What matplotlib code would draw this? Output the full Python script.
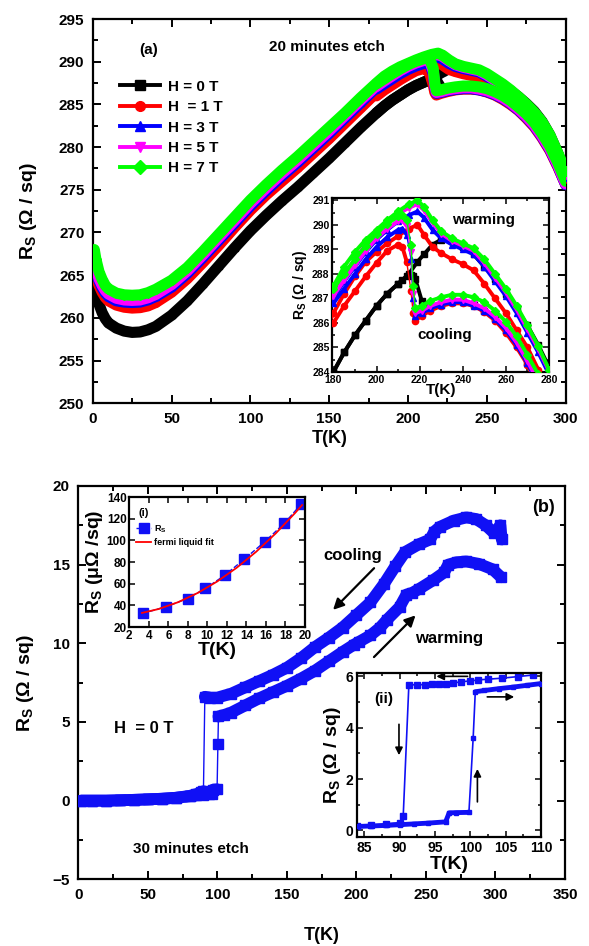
import matplotlib
matplotlib.use("Agg")
import matplotlib.pyplot as plt
from matplotlib.ticker import MultipleLocator

plt.rcParams['font.family'] = ['Liberation Sans', 'DejaVu Sans']
plt.rcParams['font.weight'] = 'bold'
plt.rcParams['mathtext.fontset'] = 'custom'
plt.rcParams['mathtext.rm'] = 'Liberation Sans:bold'
plt.rcParams['mathtext.bf'] = 'Liberation Sans:bold'
plt.rcParams['mathtext.it'] = 'Liberation Sans:bold'
plt.rcParams['axes.linewidth'] = 1.6

# ---------------- Panel (a): 20 minutes etch ----------------
field_labels = ["H = 0 T", "H  = 1 T", "H = 3 T", "H = 5 T", "H = 7 T"]
field_colors = ["#000000", "#ff0000", "#0000ff", "#ff00ff", "#00ff00"]
field_markers = ["s", "o", "^", "v", "D"]

T_warm = [1, 2, 4, 6, 8, 10, 15, 20, 25, 30, 35, 40, 50, 60, 70, 80, 90, 100,
          110, 120, 130, 140, 150, 160, 170, 180, 185, 190, 195, 200, 205, 210,
          215, 219, 222, 226, 230, 235, 240, 245, 250, 255, 260, 265, 270, 275,
          280, 285, 290, 295, 300]
R_warm_0T = [263.8, 262.9, 261.6, 260.6, 259.9, 259.4, 258.8, 258.45, 258.3, 258.35,
             258.6, 259.0, 260.3, 262.0, 264.0, 266.1, 268.2, 270.2, 272.0, 273.7,
             275.3, 277.0, 278.7, 280.5, 282.3, 284.0, 284.8, 285.5, 286.1, 286.7,
             287.2, 287.6, 288.0, 288.5, 288.8, 289.2, 289.4, 289.35, 289.1, 288.8,
             288.3, 287.8, 287.2, 286.6, 285.9, 285.1, 284.2, 283.0, 281.4, 279.3, 276.6]
R_warm_1T = [265.8, 264.9, 263.8, 263.0, 262.4, 262.0, 261.5, 261.25, 261.15, 261.2,
             261.4, 261.8, 263.0, 264.6, 266.5, 268.5, 270.6, 272.6, 274.4, 276.0,
             277.6, 279.3, 281.0, 282.8, 284.6, 286.4, 287.2, 287.9, 288.5, 288.9,
             289.25, 289.55, 289.85, 290.0, 289.6, 289.1, 288.85, 288.6, 288.4, 288.15,
             287.6, 287.0, 286.4, 285.7, 285.0, 284.1, 283.3, 282.2, 280.7, 278.8, 276.3]
R_warm_3T = [266.5, 265.5, 264.3, 263.5, 262.9, 262.5, 262.0, 261.85, 261.8, 261.85,
             262.1, 262.5, 263.6, 265.2, 267.1, 269.1, 271.1, 273.1, 274.9, 276.6,
             278.2, 279.9, 281.6, 283.4, 285.2, 287.0, 287.7, 288.3, 288.9, 289.4,
             289.8, 290.15, 290.4, 290.55, 290.3, 289.8, 289.45, 289.2, 289.0, 288.8,
             288.3, 287.7, 287.1, 286.4, 285.6, 284.8, 283.9, 282.7, 281.1, 279.0, 276.4]
R_warm_5T = [267.0, 265.9, 264.6, 263.8, 263.2, 262.8, 262.3, 262.1, 262.05, 262.1,
             262.35, 262.75, 263.9, 265.5, 267.4, 269.4, 271.4, 273.4, 275.2, 276.9,
             278.5, 280.2, 281.9, 283.7, 285.5, 287.2, 288.0, 288.6, 289.2, 289.7,
             290.1, 290.45, 290.7, 290.85, 290.6, 290.1, 289.65, 289.35, 289.15, 288.95,
             288.45, 287.85, 287.25, 286.55, 285.75, 284.95, 284.05, 282.85, 281.25, 279.15, 276.6]
R_warm_7T = [268.0, 266.9, 265.4, 264.5, 263.8, 263.4, 262.9, 262.7, 262.65, 262.7,
             262.95, 263.35, 264.4, 265.9, 267.8, 269.8, 271.8, 273.8, 275.6, 277.3,
             278.9, 280.6, 282.3, 284.0, 285.8, 287.5, 288.3, 288.9, 289.4, 289.8,
             290.2, 290.55, 290.85, 291.0, 290.75, 290.2, 289.75, 289.45, 289.25, 289.05,
             288.6, 288.0, 287.4, 286.7, 285.9, 285.05, 284.1, 282.95, 281.4, 279.3, 277.2]

T_cool = [300, 295, 290, 285, 280, 275, 270, 265, 260, 255, 250, 245, 240, 235, 230,
          225, 221, 218, 217, 216, 214, 212, 210, 205, 200, 195, 190, 185, 180]
R_cool_0T = [275.8, 278.0, 279.9, 281.4, 282.6, 283.6, 284.4, 285.1, 285.7, 286.2,
             286.5, 286.75, 286.85, 286.85, 286.75, 286.7, 286.9, 287.8, 287.9, 287.95,
             287.9, 287.75, 287.6, 287.2, 286.7, 286.1, 285.5, 284.8, 284.0]
R_cool_1T = [275.6, 277.7, 279.6, 281.1, 282.4, 283.4, 284.3, 285.0, 285.6, 286.1,
             286.45, 286.7, 286.8, 286.8, 286.7, 286.5, 286.3, 286.1, 286.4, 287.3,
             288.5, 289.1, 289.2, 288.95, 288.45, 287.9, 287.3, 286.7, 286.0]
R_cool_3T = [275.6, 277.8, 279.7, 281.2, 282.5, 283.5, 284.35, 285.1, 285.7, 286.15,
             286.5, 286.7, 286.85, 286.85, 286.75, 286.6, 286.4, 286.3, 287.0, 288.6,
             289.6, 289.85, 289.8, 289.5, 289.1, 288.6, 288.0, 287.4, 286.8]
R_cool_5T = [275.7, 277.9, 279.8, 281.3, 282.6, 283.6, 284.45, 285.2, 285.8, 286.25,
             286.6, 286.8, 286.95, 286.95, 286.85, 286.7, 286.5, 286.4, 287.2, 288.9,
             289.95, 290.2, 290.15, 289.85, 289.45, 288.95, 288.35, 287.75, 287.1]
R_cool_7T = [276.0, 278.2, 280.1, 281.6, 282.9, 283.9, 284.7, 285.45, 286.05, 286.5,
             286.85, 287.05, 287.15, 287.15, 287.05, 286.9, 286.7, 286.6, 287.5, 289.2,
             290.2, 290.4, 290.35, 290.05, 289.65, 289.15, 288.6, 288.0, 287.4]

R_warm_all = [R_warm_0T, R_warm_1T, R_warm_3T, R_warm_5T, R_warm_7T]
R_cool_all = [R_cool_0T, R_cool_1T, R_cool_3T, R_cool_5T, R_cool_7T]

# ---------------- Panel (b): 30 minutes etch ----------------
b_cool_T = [2, 10, 20, 30, 40, 50, 60, 70, 80, 85, 88, 90, 91, 95, 100, 110, 120,
            130, 140, 150, 160, 170, 180, 190, 200, 210, 220, 228, 235, 245, 253,
            256, 260, 270, 279, 286, 293, 299, 303.5, 304.5]
b_cool_R = [0.0, 0.0, 0.0, 0.02, 0.05, 0.08, 0.12, 0.18, 0.3, 0.42, 0.52, 0.6, 6.6,
            6.55, 6.55, 6.8, 7.2, 7.6, 8.0, 8.45, 9.05, 9.75, 10.35, 11.0, 11.8, 12.6,
            13.8, 14.9, 15.8, 16.3, 16.6, 17.1, 17.4, 17.8, 18.0, 17.9, 17.5, 17.0,
            17.5, 16.6]
b_warm_T = [2, 10, 20, 30, 40, 50, 60, 70, 80, 85, 90, 94, 96.5, 97, 99.8, 100.4,
            100.8, 105, 110, 120, 130, 140, 150, 160, 170, 180, 190, 198, 202, 210,
            217, 222, 231, 236, 240, 245, 255, 263, 266, 272, 279, 288, 298, 304]
b_warm_R = [0.0, 0.0, 0.0, 0.02, 0.05, 0.08, 0.12, 0.18, 0.28, 0.33, 0.38, 0.42,
            0.45, 0.7, 0.72, 3.6, 5.35, 5.45, 5.6, 6.05, 6.5, 6.9, 7.3, 7.75, 8.25,
            8.85, 9.45, 9.9, 10.1, 10.5, 11.0, 11.5, 12.3, 13.1, 13.2, 13.45, 14.0,
            14.5, 15.0, 15.15, 15.2, 15.05, 14.7, 14.2]

# inset (i): low temperature normal-state resistance and fit
i_T = [3.37, 5.8, 7.97, 9.8, 11.8, 13.8, 15.9, 17.9, 19.6]
i_R = [32.6, 38.8, 46.3, 55.6, 67.9, 82.8, 98.9, 115.9, 133.3]
fit_T = [3.3, 5, 7, 9, 11, 13, 15, 17, 19, 19.7]
fit_R = [33.0, 36.6, 42.9, 51.4, 62.0, 74.7, 89.5, 106.4, 125.4, 132.6]

# inset (ii): hysteresis around the transition
ii_cool_T = [108.8, 106.7, 104.5, 102.5, 101.1, 99.9, 98.7, 97.6, 96.5, 95.5, 94.6,
             93.6, 92.5, 91.3, 90.5, 90.0, 88.0, 86.0, 84.0]
ii_cool_R = [6.05, 5.99, 5.93, 5.89, 5.86, 5.82, 5.79, 5.74, 5.72, 5.70, 5.69,
             5.68, 5.67, 5.67, 0.55, 0.3, 0.25, 0.2, 0.17]
ii_warm_T = [84.0, 86, 88, 90, 92, 94, 96.5, 97.0, 98, 99.8, 100.4, 100.7, 102,
             104, 106, 108, 110]
ii_warm_R = [0.15, 0.17, 0.19, 0.22, 0.25, 0.28, 0.33, 0.68, 0.69, 0.7, 3.6, 5.4,
             5.45, 5.52, 5.58, 5.65, 5.72]

BLUE = "#1010f5"


def band(ax, x, y, color, lw, slope_thr, zorder=2, thin=1.0):
    """Thick band through the points; thin connectors where the slope is a jump."""
    start = 0
    for i in range(1, len(x)):
        dx = abs(x[i] - x[i - 1]) or 1e-9
        if abs(y[i] - y[i - 1]) / dx > slope_thr:
            if i - start > 1:
                ax.plot(x[start:i], y[start:i], color=color, lw=lw,
                        solid_capstyle='round', solid_joinstyle='round', zorder=zorder)
            ax.plot(x[i - 1:i + 1], y[i - 1:i + 1], color=color, lw=thin, zorder=zorder)
            start = i
    if len(x) - start > 1:
        ax.plot(x[start:], y[start:], color=color, lw=lw,
                solid_capstyle='round', solid_joinstyle='round', zorder=zorder)


def style(ax, xmaj, xmin, ymaj, ymin, size, width=1.4, length=5, pad=4):
    ax.xaxis.set_major_locator(MultipleLocator(xmaj))
    ax.yaxis.set_major_locator(MultipleLocator(ymaj))
    if xmin:
        ax.xaxis.set_minor_locator(MultipleLocator(xmin))
    if ymin:
        ax.yaxis.set_minor_locator(MultipleLocator(ymin))
    ax.tick_params(which='both', direction='in', top=True, right=True,
                   width=width, labelsize=size, pad=pad)
    ax.tick_params(which='major', length=length)
    ax.tick_params(which='minor', length=length * 0.6)
    for lab in ax.get_xticklabels() + ax.get_yticklabels():
        lab.set_fontweight('bold')


fig = plt.figure(figsize=(5.89, 9.46), dpi=100)

# ================= Panel (a) =================
ax1 = fig.add_axes([0.1574, 0.5737, 0.8030, 0.4062])
for k in range(5):
    c = field_colors[k]
    band(ax1, T_cool, R_cool_all[k], c, 8.0, 1e9, zorder=2 + k)
    band(ax1, T_warm, R_warm_all[k], c, 8.0, 1e9, zorder=2 + k)
    ax1.plot(T_warm, R_warm_all[k], ls='none', marker=field_markers[k], ms=5,
             color=c, zorder=2 + k)
ax1.set_xlim(0, 300)
ax1.set_ylim(250, 295)
style(ax1, 50, 25, 5, 2.5, 11, length=6, pad=6)
ax1.set_xlabel("T(K)", fontsize=13, fontweight='bold', labelpad=3)
ax1.set_ylabel(r"$\mathbf{R_S}$ (Ω / sq)", fontsize=14, fontweight='bold', labelpad=14)
ax1.text(0.1175, 0.919, "(a)", transform=ax1.transAxes, fontsize=11,
         fontweight='bold', ha='center', va='center')
ax1.text(0.495, 0.927, "20 minutes etch", transform=ax1.transAxes, fontsize=11,
         fontweight='bold', ha='center', va='center')

handles = []
for k in range(5):
    h, = ax1.plot([], [], color=field_colors[k], lw=2.8, marker=field_markers[k],
                  ms=7, label=field_labels[k])
    handles.append(h)
ax1.legend(handles=handles, loc='upper left', bbox_to_anchor=(0.058, 0.842),
           frameon=False, borderaxespad=0, borderpad=0, handlelength=2.6,
           handletextpad=0.55, labelspacing=0.42, markerfirst=True,
           prop={'weight': 'bold', 'size': 11})

# inset of (a)
ax1i = fig.add_axes([0.5642, 0.6068, 0.3679, 0.1839])
for k in range(5):
    c = field_colors[k]
    band(ax1i, T_cool, R_cool_all[k], c, 2.8, 0.4, zorder=2 + k)
    band(ax1i, T_warm, R_warm_all[k], c, 2.8, 0.4, zorder=2 + k)
    ax1i.plot(T_cool, R_cool_all[k], ls='none', marker=field_markers[k], ms=4.5,
              color=c, zorder=2 + k)
    ax1i.plot(T_warm, R_warm_all[k], ls='none', marker=field_markers[k], ms=4.5,
              color=c, zorder=2 + k)
ax1i.set_xlim(179.5, 280)
ax1i.set_ylim(284, 291.1)
style(ax1i, 20, 10, 1, 0.5, 7.5, width=1.1, length=4, pad=2)
ax1i.set_xlabel("T(K)", fontsize=11, fontweight='bold', labelpad=-1)
ax1i.set_ylabel(r"$\mathbf{R_S}$ (Ω / sq)", fontsize=10, fontweight='bold', labelpad=2)
ax1i.text(249.4, 290.2, "warming", fontsize=11, fontweight='bold',
          ha='center', va='center')
ax1i.text(231.8, 285.5, "cooling", fontsize=11, fontweight='bold',
          ha='center', va='center')

# ================= Panel (b) =================
ax2 = fig.add_axes([0.1329, 0.0705, 0.8264, 0.4158])
band(ax2, b_cool_T, b_cool_R, BLUE, 8.5, 2.0, zorder=3)
band(ax2, b_warm_T, b_warm_R, BLUE, 8.5, 2.0, zorder=3)
ax2.plot(b_cool_T, b_cool_R, ls='none', marker='s', ms=7, color=BLUE, zorder=3)
ax2.plot(b_warm_T, b_warm_R, ls='none', marker='s', ms=7, color=BLUE, zorder=3)
ax2.set_xlim(0, 350)
ax2.set_ylim(-5, 20)
style(ax2, 50, 25, 5, 2.5, 11, length=6, pad=6)
ax2.set_xlabel("T(K)", fontsize=13, fontweight='bold', labelpad=18)
ax2.set_ylabel(r"$\mathbf{R_S}$ (Ω / sq)", fontsize=14, fontweight='bold', labelpad=12)
ax2.text(334.8, 18.6, "(b)", fontsize=13, fontweight='bold', ha='center', va='center')
ax2.text(197.3, 15.57, "cooling", fontsize=12, fontweight='bold', ha='center', va='center')
ax2.text(266.6, 10.3, "warming", fontsize=12, fontweight='bold', ha='center', va='center')
ax2.text(46.7, 4.6, "H  = 0 T", fontsize=12, fontweight='bold', ha='center', va='center')
ax2.text(81.3, -3.1, "30 minutes etch", fontsize=11, fontweight='bold',
         ha='center', va='center')
arrow = dict(arrowstyle='-|>', lw=1.6, color='k', mutation_scale=16)
ax2.annotate('', xy=(181.8, 12.0), xytext=(214.1, 14.9), arrowprops=arrow)
ax2.annotate('', xy=(243.9, 11.9), xytext=(211.2, 9.0), arrowprops=arrow)

# inset (i)
ax3 = fig.add_axes([0.2195, 0.3372, 0.2983, 0.1374])
ax3.plot(i_T, i_R, ls='--', lw=1.0, marker='s', ms=7, color=BLUE, label=r"R$_\mathbf{S}$")
ax3.plot(fit_T, fit_R, ls='-', lw=1.3, color='#ff0000', label="fermi liquid fit")
ax3.set_xlim(2, 20)
ax3.set_ylim(20, 140)
style(ax3, 2, None, 20, None, 8.5, width=1.1, length=4, pad=2)
ax3.set_xlabel("T(K)", fontsize=14, fontweight='bold', labelpad=0)
ax3.set_ylabel(r"$\mathbf{R_S}$ (μΩ /sq)", fontsize=14, fontweight='bold', labelpad=1)
ax3.text(0.08, 0.88, "(i)", transform=ax3.transAxes, fontsize=8, fontweight='bold',
         ha='center', va='center')
ax3.legend(loc='upper left', bbox_to_anchor=(0.04, 0.80), frameon=False,
           borderaxespad=0, borderpad=0, handlelength=1.6, handletextpad=0.4,
           labelspacing=0.4, prop={'weight': 'bold', 'size': 6.5})

# inset (ii)
ax4 = fig.add_axes([0.6066, 0.1155, 0.3119, 0.1736])
ax4.plot(ii_cool_T, ii_cool_R, ls='-', lw=1.2, marker='s', ms=4, color=BLUE)
band(ax4, ii_warm_T, ii_warm_R, BLUE, 3.5, 2.0, zorder=3, thin=1.2)
ax4.plot(ii_warm_T, ii_warm_R, ls='none', marker='s', ms=3.5, color=BLUE, zorder=3)
ax4.set_xlim(84, 110)
ax4.set_ylim(-0.25, 6.15)
style(ax4, 5, 2.5, 2, 1, 10, width=1.1, length=4, pad=3)
ax4.set_xlabel("T(K)", fontsize=14, fontweight='bold', labelpad=1)
ax4.set_ylabel(r"$\mathbf{R_S}$ (Ω / sq)", fontsize=14, fontweight='bold', labelpad=2)
ax4.text(87.7, 5.1, "(ii)", fontsize=11, fontweight='bold', ha='center', va='center')
arrow2 = dict(arrowstyle='-|>', lw=1.2, color='k', mutation_scale=11)
ax4.annotate('', xy=(94.8, 6.0), xytext=(100.0, 6.0), arrowprops=arrow2)
ax4.annotate('', xy=(106.6, 5.2), xytext=(102.0, 5.2), arrowprops=arrow2)
ax4.annotate('', xy=(89.9, 2.82), xytext=(89.9, 4.24), arrowprops=arrow2)
ax4.annotate('', xy=(101.0, 2.5), xytext=(101.0, 1.0), arrowprops=arrow2)

fig.savefig("out.png", dpi=100)
